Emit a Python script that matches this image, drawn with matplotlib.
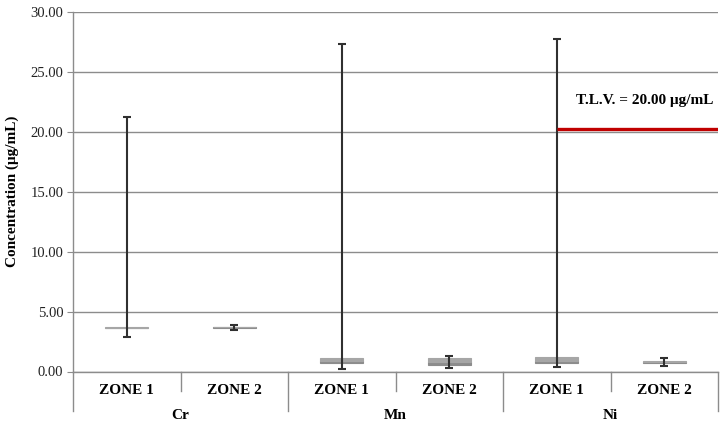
import numpy as np
import matplotlib
matplotlib.use("Agg")
import matplotlib.pyplot as plt
import matplotlib.transforms as mtransforms

# metals and zones (two-level category axis)
metals = ["Cr", "Mn", "Ni"]
zones = ["ZONE 1", "ZONE 2"]

# box-plot statistics per category, order: Cr Z1, Cr Z2, Mn Z1, Mn Z2, Ni Z1, Ni Z2
mins = [2.86, 3.47, 0.21, 0.33, 0.40, 0.48]
q1s = [3.63, 3.66, 0.68, 0.54, 0.74, 0.68]
medians = [3.66, 3.69, 0.90, 0.80, 0.86, 0.78]
q3s = [3.69, 3.72, 1.16, 1.15, 1.19, 0.90]
maxs = [21.24, 3.88, 27.33, 1.32, 27.78, 1.10]

tlv = 20.25
tlv_label = "T.L.V. = 20.00 μg/mL"


def main():
    plt.rcParams["font.family"] = ["Liberation Serif", "DejaVu Serif"]

    fig = plt.figure(figsize=(7.26, 4.32), dpi=100)
    ax = fig.add_axes([73 / 726, 60.5 / 432, 645 / 726, 359.5 / 432])

    pos = np.arange(len(mins))
    width = 0.4
    q1 = np.array(q1s)
    med = np.array(medians)
    q3 = np.array(q3s)

    # lower half of box (q1 -> median) and upper half (median -> q3)
    ax.bar(pos, med - q1, width, bottom=q1, color="#8c8c8c",
           edgecolor="#8c8c8c", linewidth=0.8, zorder=3)
    ax.bar(pos, q3 - med, width, bottom=med, color="#a6a6a6",
           edgecolor="#a6a6a6", linewidth=0.8, zorder=3)

    # whiskers
    err = [med - np.array(mins), np.array(maxs) - med]
    ax.errorbar(pos, med, yerr=err, fmt="none", ecolor="#303030",
                elinewidth=1.5, capsize=3, capthick=1.5, zorder=4)

    # threshold limit value line
    ax.plot([4, 5.5], [tlv, tlv], color="#c00000", linewidth=2.4, zorder=5,
            solid_capstyle="butt")
    ax.text(4.82, 22.6, tlv_label, ha="center", va="center",
            fontsize=11, fontweight="bold", color="black")

    ax.set_xlim(-0.5, 5.5)
    ax.set_ylim(0, 30)
    ax.set_yticks(np.arange(0, 31, 5))
    ax.set_yticklabels(["%.2f" % v for v in np.arange(0, 31, 5)], fontsize=10.5)
    ax.yaxis.grid(True, color="#8c8c8c", linewidth=1.0)
    ax.set_axisbelow(True)
    ax.tick_params(axis="y", length=4, color="#8c8c8c", pad=3, labelcolor="#222222")
    ax.set_xticks([])

    for side in ["top", "right"]:
        ax.spines[side].set_visible(False)
    ax.spines["left"].set_color("#8c8c8c")
    ax.spines["bottom"].set_color("#8c8c8c")
    ax.spines["left"].set_linewidth(1.0)
    ax.spines["bottom"].set_linewidth(1.0)

    ax.set_ylabel("Concentration (μg/mL)", fontsize=11, fontweight="bold",
                  labelpad=8)

    # two-level category labels below the axis
    trans = mtransforms.blended_transform_factory(ax.transData, ax.transAxes)
    for i, metal in enumerate(metals):
        for j, zone in enumerate(zones):
            ax.text(2 * i + j, -0.052, zone, transform=trans, ha="center",
                    va="center", fontsize=11, fontweight="bold")
        ax.text(2 * i + 0.5, -0.122, metal, transform=trans, ha="center",
                va="center", fontsize=11, fontweight="bold")
    for x in [0.5, 2.5, 4.5]:
        ax.plot([x, x], [0, -0.055], transform=trans, color="#8c8c8c",
                linewidth=1.0, clip_on=False)
    for x in [-0.5, 1.5, 3.5, 5.5]:
        ax.plot([x, x], [0, -0.11], transform=trans, color="#8c8c8c",
                linewidth=1.0, clip_on=False)

    fig.savefig("out.png", dpi=100)


if __name__ == "__main__":
    main()
